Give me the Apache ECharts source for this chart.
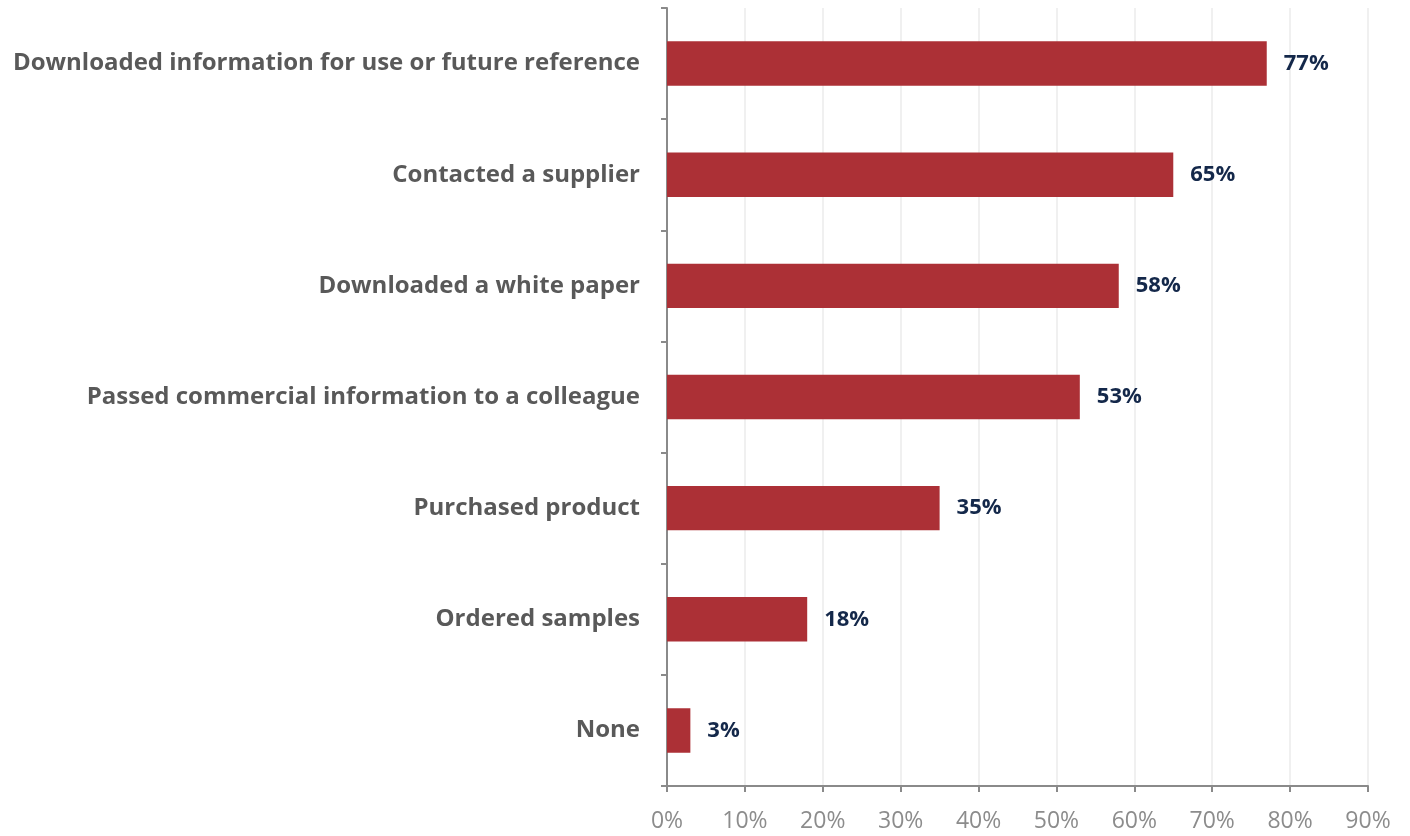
<!DOCTYPE html>
<html>
<head>
<meta charset="utf-8">
<script src="https://cdn.jsdelivr.net/npm/echarts@6/dist/echarts.min.js"></script>
<style>
  html, body { margin: 0; padding: 0; background: #ffffff; }
  #chart { width: 1410px; height: 836px; }
</style>
</head>
<body>
<div id="chart"></div>
<script>
// Actions taken, listed top to bottom
const categories = [
  'Downloaded information for use or future reference',
  'Contacted a supplier',
  'Downloaded a white paper',
  'Passed commercial information to a colleague',
  'Purchased product',
  'Ordered samples',
  'None'
];
// Share of respondents, percent
const values = [77, 65, 58, 53, 35, 18, 3];
const axisMax = 90;
const axisStep = 10;

const chart = echarts.init(document.getElementById('chart'), null, { renderer: 'canvas' });

chart.setOption({
  animation: false,
  backgroundColor: '#ffffff',
  grid: { left: 667, right: 42, top: 8, bottom: 50, containLabel: false },
  xAxis: {
    type: 'value',
    min: 0,
    max: axisMax,
    interval: axisStep,
    axisLine: { show: true, lineStyle: { color: '#8a8a8a', width: 2 } },
    axisTick: { show: true, length: 6, lineStyle: { color: '#8a8a8a', width: 2 } },
    splitLine: { show: true, lineStyle: { color: '#ebebeb', width: 1.5 } },
    axisLabel: {
      formatter: '{value}%',
      color: '#8c8c8c',
      fontFamily: 'Open Sans',
      fontSize: 23,
      margin: 24
    }
  },
  yAxis: {
    type: 'category',
    inverse: true,
    data: categories,
    axisLine: { show: true, lineStyle: { color: '#8a8a8a', width: 2 } },
    axisTick: { show: true, length: 6, lineStyle: { color: '#8a8a8a', width: 2 } },
    splitLine: { show: false },
    axisLabel: {
      color: '#595959',
      fontFamily: 'Open Sans',
      fontWeight: 700,
      fontSize: 24,
      margin: 27
    }
  },
  series: [{
    type: 'bar',
    data: values,
    barWidth: '40%',
    itemStyle: { color: '#ac3036' },
    label: {
      show: true,
      position: 'right',
      distance: 17,
      formatter: '{c}%',
      color: '#14284a',
      fontFamily: 'Open Sans',
      fontWeight: 700,
      fontSize: 22
    }
  }]
});
</script>
</body>
</html>
